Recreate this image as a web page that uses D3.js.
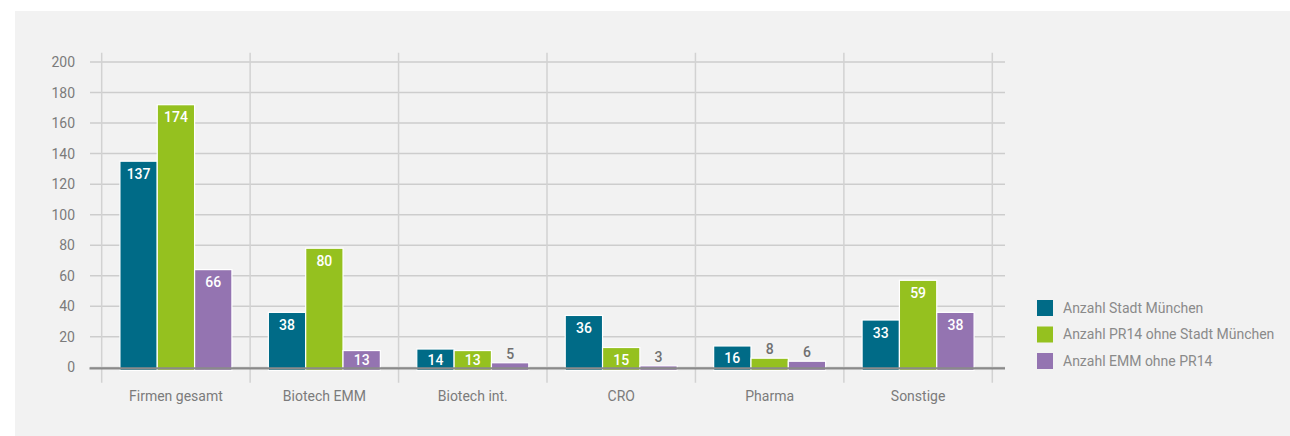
<!DOCTYPE html>
<html>
<head>
<meta charset="utf-8">
<script src="https://cdn.jsdelivr.net/npm/d3@7"></script>
<style>
  html, body { margin: 0; padding: 0; background: #fff; }
  svg { display: block; font-family: Roboto, 'Open Sans', sans-serif; }
</style>
</head>
<body>
<div id="vis"></div>
<script>
// Data
var categories = ['Firmen gesamt', 'Biotech EMM', 'Biotech int.', 'CRO', 'Pharma', 'Sonstige'];
var seriesNames = ['Anzahl Stadt München', 'Anzahl PR14 ohne Stadt München', 'Anzahl EMM ohne PR14'];
var stadtMuenchen = [137, 38, 14, 36, 16, 33];
var pr14OhneStadt = [174, 80, 13, 15, 8, 59];
var emmOhnePr14 = [66, 13, 5, 3, 6, 38];
var yTicks = [0, 20, 40, 60, 80, 100, 120, 140, 160, 180, 200];

(function () {

  'strict';

  var width = 1290;
  var height = 436;

  var colors = ['#006b87', '#95c11f', '#9474b1'];
  var series = [stadtMuenchen, pr14OhneStadt, emmOhnePr14];

  var svg = d3.select('#vis').append('svg')
      .attr('width', width)
      .attr('height', height);

  // Grey panel
  svg.append('rect')
      .attr('x', 15)
      .attr('y', 11)
      .attr('width', width - 15)
      .attr('height', height - 11)
      .attr('fill', '#f2f2f2');

  var x = d3.scaleBand()
    .domain(categories)
    .range([101.7, 992.3]);

  var xInner = d3.scaleBand()
    .domain(d3.range(seriesNames.length))
    .range([-56, 56]);

  var y = d3.scaleLinear()
    .domain([0, 200])
    .range([367.4, 62]);

  // Horizontal grid
  svg.append('g')
    .selectAll('line')
      .data(yTicks)
      .enter()
    .append('line')
      .attr('x1', 90)
      .attr('x2', 1005)
      .attr('y1', function (d) { return y(d); })
      .attr('y2', function (d) { return y(d); })
      .attr('stroke', '#cdcdcd')
      .attr('stroke-width', 1.5);

  // Vertical separators
  var bounds = categories.map(function (c) { return x(c); }).concat([x.range()[1]]);

  svg.append('g')
    .selectAll('line')
      .data(bounds)
      .enter()
    .append('line')
      .attr('x1', function (d) { return d; })
      .attr('x2', function (d) { return d; })
      .attr('y1', 52.7)
      .attr('y2', 382.7)
      .attr('stroke', '#d2d2d2')
      .attr('stroke-width', 1.5);

  // Y axis labels
  var yAxis = d3.axisLeft(y)
      .tickValues(yTicks)
      .tickSize(0)
      .tickPadding(0);

  svg.append('g')
      .attr('transform', 'translate(75,0)')
      .call(yAxis)
      .call(function (g) { g.select('.domain').remove(); })
    .selectAll('text')
      .attr('font-size', 14)
      .attr('font-family', 'Roboto, sans-serif')
      .attr('fill', '#7b7b7b');

  // Bars
  var groups = svg.append('g')
      .attr('transform', 'translate(0,3)')
    .selectAll('g')
      .data(categories)
      .enter()
    .append('g')
      .attr('transform', function (c) {
        return 'translate(' + (x(c) + x.bandwidth() / 2) + ',0)';
      });

  groups.selectAll('rect')
      .data(function (c, i) {
        return series.map(function (s, k) { return { k: k, value: s[i] }; });
      })
      .enter()
    .append('rect')
      .attr('x', function (d) { return xInner(d.k); })
      .attr('width', xInner.bandwidth())
      .attr('y', function (d) { return y(d.value); })
      .attr('height', function (d) { return y(0) - y(d.value); })
      .attr('fill', function (d) { return colors[d.k]; })
      .attr('stroke', '#fff')
      .attr('stroke-width', 1.2);

  groups.selectAll('text')
      .data(function (c, i) {
        return series.map(function (s, k) { return { k: k, value: s[i] }; });
      })
      .enter()
    .append('text')
      .attr('x', function (d) { return xInner(d.k) + xInner.bandwidth() / 2; })
      .attr('y', function (d) {
        return d.value >= 10 ? Math.min(y(d.value) + 17.5, 362.3) : y(d.value) - 4;
      })
      .attr('text-anchor', 'middle')
      .attr('font-size', 14)
      .attr('font-weight', 500)
      .attr('fill', function (d) { return d.value >= 10 ? '#fff' : '#707070'; })
      .text(function (d) { return d.value; });

  // Zero line
  svg.append('line')
      .attr('x1', 89.5)
      .attr('x2', 1005)
      .attr('y1', 368.3)
      .attr('y2', 368.3)
      .attr('stroke', '#8a8a8a')
      .attr('stroke-width', 2.2);

  // Category labels
  svg.append('g')
    .selectAll('text')
      .data(categories)
      .enter()
    .append('text')
      .attr('x', function (c) { return x(c) + x.bandwidth() / 2; })
      .attr('y', 401)
      .attr('text-anchor', 'middle')
      .attr('font-size', 14)
      .attr('fill', '#7b7b7b')
      .text(function (c) { return c; });

  // Legend
  var legend = svg.append('g')
    .selectAll('g')
      .data(seriesNames)
      .enter()
    .append('g')
      .attr('transform', function (d, i) {
        return 'translate(1037,' + (300 + i * 26.5) + ')';
      });

  legend.append('rect')
      .attr('width', 16)
      .attr('height', 16)
      .attr('fill', function (d, i) { return colors[i]; });

  legend.append('text')
      .attr('x', 26)
      .attr('y', 8)
      .attr('dy', '0.35em')
      .attr('font-size', 14)
      .attr('fill', '#8a8a8a')
      .text(function (d) { return d; });
})();
</script>
</body>
</html>
